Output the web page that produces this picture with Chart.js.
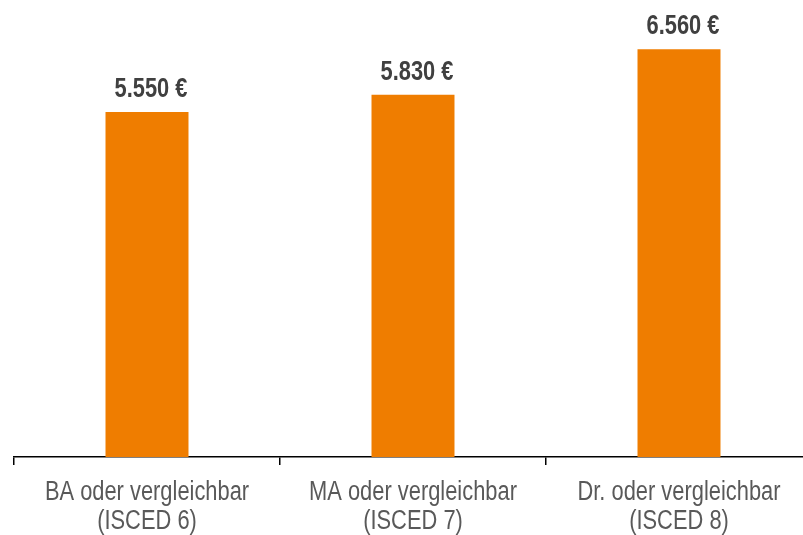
<!DOCTYPE html>
<html><head><meta charset="utf-8">
<script src="https://cdn.jsdelivr.net/npm/chart.js@4.4.1/dist/chart.umd.min.js"></script>
<style>
html,body{margin:0;padding:0;overflow:hidden;background:#fff}
#wrap{width:803px;height:535px;overflow:hidden;position:relative}
#c{display:block}
</style>
</head><body>
<div id="wrap"><canvas id="c" width="830" height="535" style="width:830px;height:535px"></canvas></div>
<script>
const categories = [["BA oder vergleichbar","(ISCED 6)"],["MA oder vergleichbar","(ISCED 7)"],["Dr. oder vergleichbar","(ISCED 8)"]];
const values = [5550, 5830, 6560];
const valueLabels = ["5.550 €", "5.830 €", "6.560 €"];
const yMin = 0, yMax = 7000;

const FAMILY = "'Liberation Sans',Arial,sans-serif";
const SQUEEZE = 0.81; // emulate a narrow face

function drawNarrow(ctx, text, x, y) {
  ctx.save();
  ctx.translate(x, y);
  ctx.scale(SQUEEZE, 1);
  ctx.fillText(text, 0, 0);
  ctx.restore();
}

const labelPlugin = {
  id: 'narrowLabels',
  afterDatasetsDraw(chart) {
    const ctx = chart.ctx;
    const meta = chart.getDatasetMeta(0);
    ctx.save();
    ctx.font = "bold 27px " + FAMILY;
    ctx.fillStyle = '#404040';
    ctx.textAlign = 'center';
    ctx.textBaseline = 'alphabetic';
    meta.data.forEach((bar, i) => drawNarrow(ctx, valueLabels[i], bar.x + 4, bar.y - 15));
    ctx.restore();
  },
  afterDraw(chart) {
    const ctx = chart.ctx;
    const xs = chart.scales.x;
    const base = chart.chartArea.bottom;
    ctx.save();
    ctx.font = "27px " + FAMILY;
    ctx.fillStyle = '#595959';
    ctx.textAlign = 'center';
    ctx.textBaseline = 'alphabetic';
    categories.forEach((lines, i) => {
      const x = xs.getPixelForValue(i);
      lines.forEach((t, j) => drawNarrow(ctx, t, x, base + 43 + j * 29));
    });
    ctx.restore();
  }
};

new Chart(document.getElementById('c'), {
  type: 'bar',
  data: {
    labels: categories,
    datasets: [{
      data: values,
      backgroundColor: '#EF7D00',
      borderWidth: 0,
      barPercentage: 0.312,
      categoryPercentage: 1.0
    }]
  },
  options: {
    responsive: false,
    devicePixelRatio: 1,
    animation: false,
    layout: { padding: { left: 14, right: 18, top: 22, bottom: 0 } },
    plugins: { legend: { display: false }, tooltip: { enabled: false } },
    scales: {
      y: { display: false, min: yMin, max: yMax },
      x: {
        offset: true,
        grid: { offset: true, drawOnChartArea: false, drawTicks: true, tickLength: 8, color: '#000', lineWidth: 1.5 },
        border: { display: true, color: '#000', width: 1.5 },
        ticks: { display: false, autoSkip: false },
        afterFit(scale) { scale.height = 78; }
      }
    }
  },
  plugins: [labelPlugin]
});
</script>
</body></html>
